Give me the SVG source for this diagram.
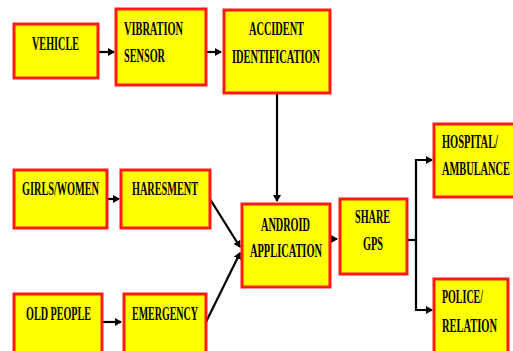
<svg xmlns="http://www.w3.org/2000/svg" width="513" height="351" viewBox="0 0 513 351">
<style>
.box{fill:#ffff00;stroke:#ff1a1a;stroke-width:3}
.glow{fill:none;stroke:#ffb0b0;stroke-width:5}
.t{font-family:"Liberation Serif","Times New Roman",serif;font-weight:bold;font-size:19px;fill:#000}
.c{fill:none;stroke:#000;stroke-width:2.2}
</style>
<defs>
<marker id="ah" markerWidth="8" markerHeight="8" refX="6" refY="4" orient="auto" markerUnits="userSpaceOnUse">
<path d="M0,0 L7,4 L0,8 Z" fill="#000"/>
</marker>
</defs>
<rect width="513" height="351" fill="#fff"/>
<g id="connectors">
<line class="c" x1="98" y1="52" x2="114" y2="52" marker-end="url(#ah)" stroke-width="3"/>
<line class="c" x1="206" y1="52" x2="221" y2="52" marker-end="url(#ah)" stroke-width="3"/>
<line class="c" x1="277" y1="93" x2="277" y2="201" marker-end="url(#ah)"/>
<line class="c" x1="107" y1="199" x2="119" y2="199" marker-end="url(#ah)" stroke-width="3"/>
<line class="c" x1="102" y1="322" x2="121" y2="322" marker-end="url(#ah)" stroke-width="3"/>
<line class="c" x1="210" y1="199" x2="240" y2="247" marker-end="url(#ah)"/>
<line class="c" x1="206" y1="322" x2="240" y2="253" marker-end="url(#ah)"/>
<line class="c" x1="330" y1="239" x2="337" y2="239" marker-end="url(#ah)" stroke-width="3"/>
<polyline class="c" points="407,240 416,240"/>
<polyline class="c" points="432,160 416,160 416,310 432,310" stroke-width="2.5"/>
<line class="c" x1="425" y1="160" x2="432" y2="160" marker-end="url(#ah)"/>
<line class="c" x1="425" y1="310" x2="432" y2="310" marker-end="url(#ah)"/>
</g>
<g id="vehicle"><rect class="box" x="14" y="24" width="84" height="54"/><text class="t" x="32" y="50" textLength="47" lengthAdjust="spacingAndGlyphs">VEHICLE</text></g>
<g id="vibration"><rect class="box" x="116" y="9" width="90" height="76"/><text class="t" x="124" y="35" textLength="59" lengthAdjust="spacingAndGlyphs">VIBRATION</text><text class="t" x="124" y="62" textLength="41" lengthAdjust="spacingAndGlyphs">SENSOR</text></g>
<g id="accident"><rect class="box" x="224" y="10" width="106" height="83"/><text class="t" x="249" y="35" textLength="55" lengthAdjust="spacingAndGlyphs">ACCIDENT</text><text class="t" x="232" y="63" textLength="88" lengthAdjust="spacingAndGlyphs">IDENTIFICATION</text></g>
<g id="girls"><rect class="box" x="14" y="170" width="93" height="58"/><text class="t" x="22" y="195" textLength="77" lengthAdjust="spacingAndGlyphs">GIRLS/WOMEN</text></g>
<g id="haresment"><rect class="box" x="121" y="170" width="89" height="58"/><text class="t" x="132" y="195" textLength="66" lengthAdjust="spacingAndGlyphs">HARESMENT</text></g>
<g id="oldpeople"><rect class="box" x="14" y="294" width="88" height="60"/><text class="t" x="26" y="320" textLength="65" lengthAdjust="spacingAndGlyphs">OLD PEOPLE</text></g>
<g id="emergency"><rect class="box" x="124" y="294" width="82" height="60"/><text class="t" x="132" y="320" textLength="66" lengthAdjust="spacingAndGlyphs">EMERGENCY</text></g>
<g id="android"><rect class="box" x="242" y="204" width="88" height="83"/><text class="t" x="261" y="231" textLength="49" lengthAdjust="spacingAndGlyphs">ANDROID</text><text class="t" x="250" y="257" textLength="72" lengthAdjust="spacingAndGlyphs">APPLICATION</text></g>
<g id="sharegps"><rect class="box" x="340" y="199" width="67" height="75"/><text class="t" x="355" y="223" textLength="35" lengthAdjust="spacingAndGlyphs">SHARE</text><text class="t" x="363" y="250" textLength="20" lengthAdjust="spacingAndGlyphs">GPS</text></g>
<g id="hospital"><rect class="box" x="434" y="124" width="82" height="73"/><text class="t" x="442" y="148" textLength="56" lengthAdjust="spacingAndGlyphs">HOSPITAL/</text><text class="t" x="442" y="175" textLength="68" lengthAdjust="spacingAndGlyphs">AMBULANCE</text></g>
<g id="police"><rect class="box" x="434" y="279" width="74" height="74"/><text class="t" x="442" y="303" textLength="41" lengthAdjust="spacingAndGlyphs">POLICE/</text><text class="t" x="442" y="332" textLength="55" lengthAdjust="spacingAndGlyphs">RELATION</text></g>
</svg>
